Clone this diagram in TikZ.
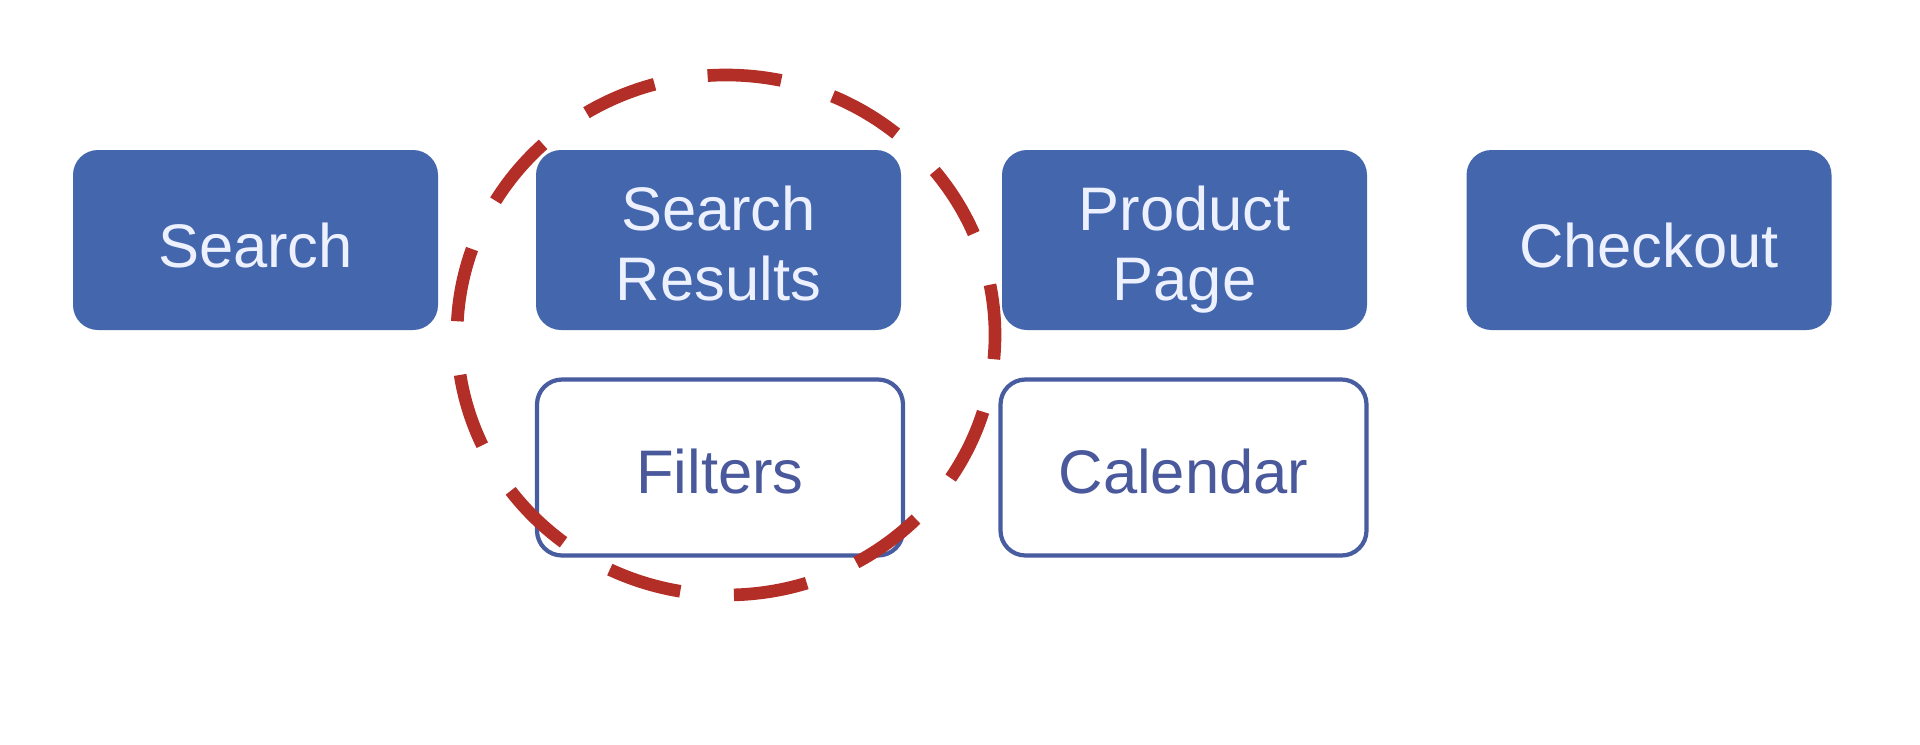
\documentclass[tikz,border=0pt]{standalone}
\usepackage{fontspec}
\setmainfont{Liberation Sans}
\definecolor{boxblue}{RGB}{67,102,172}
\definecolor{boxtext}{RGB}{236,240,255}
\definecolor{outline}{RGB}{72,92,160}
\definecolor{outtext}{RGB}{74,88,156}
\definecolor{ringred}{RGB}{180,46,40}
\newcommand\boxlines[1]{\begin{tabular}[t]{@{}c@{}}#1\end{tabular}}
\begin{document}
\begin{tikzpicture}[
  solidbox/.style={rectangle, rounded corners=0.25cm, fill=boxblue,
    minimum width=3.65cm, minimum height=1.8cm, inner sep=0pt},
  openbox/.style={rectangle, rounded corners=0.25cm, draw=outline, line width=1.2pt,
    fill=white, minimum width=3.66cm, minimum height=1.76cm, inner sep=0pt},
  solidtext/.style={anchor=base, inner sep=0pt, text=boxtext,
    font=\fontsize{17.5}{20}\selectfont},
  opentext/.style={anchor=base, inner sep=0pt, text=outtext,
    font=\fontsize{17.5}{20}\selectfont},
  ring/.style={draw=ringred, line width=3.6pt, dash pattern=on 0.74cm off 0.538cm,
    dash phase=0.234cm}
]
\useasboundingbox[fill=white] (0,0) rectangle (19.2,7.44);
\node[solidbox] (search) at (2.555,5.04) {};
\node[solidbox] (results) at (7.185,5.04) {};
\node[solidbox] (product) at (11.845,5.04) {};
\node[solidbox] (checkout) at (16.49,5.04) {};
\node[openbox] (filters) at (7.20,2.765) {};
\node[openbox] (calendar) at (11.835,2.765) {};
\node[solidtext] (searchT) at ([yshift=-0.27cm]search.center) {Search};
\node[solidtext] (resultsT) at ([yshift=0.10cm]results.center) {\boxlines{Search\\Results}};
\node[solidtext] (productT) at ([yshift=0.10cm]product.center) {\boxlines{Product\\Page}};
\node[solidtext] (checkoutT) at ([yshift=-0.27cm]checkout.center) {Checkout};
\node[opentext] (filtersT) at ([yshift=-0.26cm]filters.center) {Filters};
\node[opentext] (calendarT) at ([yshift=-0.26cm]calendar.center) {Calendar};
\coordinate (focus) at (7.26,4.09);
\draw[ring] (focus) ellipse [x radius=2.69cm, y radius=2.60cm];
\end{tikzpicture}
\end{document}
